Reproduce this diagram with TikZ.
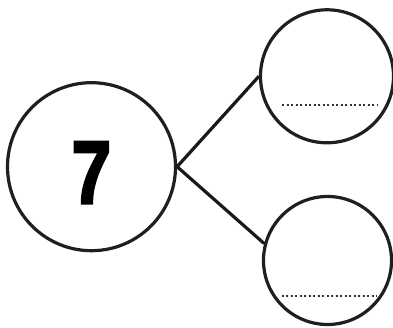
\documentclass[tikz,border=0pt]{standalone}
\usepackage{fontspec}
\usepackage{tikz}
\newfontfamily\digitfont[BoldFeatures={FakeBold=3}]{Liberation Sans}

\begin{document}
\begin{tikzpicture}[x=1pt, y=1pt,
		ring/.style={draw=black!88, line width=3.2pt, circle, inner sep=0pt},
		link/.style={draw=black!90, line width=3.2pt},
		dotline/.style={draw=black!80, line width=2.2pt, dash pattern=on 2pt off 2.5pt}]
		\useasboundingbox (0,0) rectangle (393,328);
		\node[ring, minimum size=168pt, font=\digitfont\bfseries\fontsize{89}{89}\selectfont, text height=73pt, text depth=0pt] (whole) at (91.5,161.3) {\scalebox{0.8}[1]{7}};
		\node[ring, minimum size=133pt] (upper) at (327,251.7) {};
		\node[ring, minimum size=128pt] (lower) at (327.5,67.5) {};
		\draw[link] (whole.east) -- (upper.west);
		\draw[link] (whole.east) -- (lower.165);
		\draw[dotline] ([xshift=-45pt, yshift=-28.4pt]upper.center) -- ++(95pt,0);
		\draw[dotline] ([xshift=-45.8pt, yshift=-35.5pt]lower.center) -- ++(95pt,0);
	\end{tikzpicture}
\end{document}
